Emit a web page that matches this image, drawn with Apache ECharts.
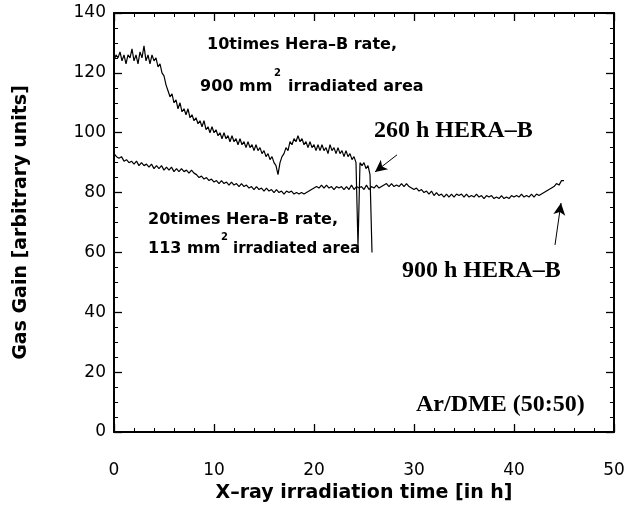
<!DOCTYPE html>
<html>
<head>
<meta charset="utf-8">
<script src="https://cdn.jsdelivr.net/npm/echarts@6.0.0/dist/echarts.min.js"></script>
<style>
html, body { margin: 0; padding: 0; background: #fff; }
#chart { width: 628px; height: 514px; }
</style>
</head>
<body>
<div id="chart"></div>
<script>
// gas gain vs irradiation time, two measurements
// 10x Hera-B rate, 900 mm2 (sampled every 0.2 h)
var stepHigh = 0.2;
var gainHigh = [
  124,126,125,127,124,126,123,126,125,128,124,126,123,127,125,129,124,126,123,126,124,125,122,123,120,
  119,116,114,112,113,110,111,108,110,107,108,106,108,105,106,104,105,103,104,102,104,101,102,100,102,
  100,101,99,100,98,100,98,99,97,99,97,98,96,98,96,97,95,97,95,96,94,96,94,95,93,
  94,92,93,91,92,90,89,86,90,92,93,95,94,97,96,98,97,99,97,98,96,97,95,97,95,
  96,94,96,94,96,94,95,93,96,94,95,93,95,93,94,92,94,92,93,91,92,90,62,90,89,
  90,88,89,86,60
];
// 20x Hera-B rate, 113 mm2 (sampled every 0.25 h)
var stepLow = 0.25;
var gainLow = [
  93,92,91.5,92,90.5,91,90,90.5,89.5,90.5,89,90,89,89.5,88.5,89.5,88,89,88,89,
  87.5,88.5,87.5,88.5,87,88,87,88,87,87.5,86.5,87.5,86.5,86,85,85.5,84.5,85,84,84.5,
  83.5,84,83,84,83,83.5,82.5,83.5,82.5,83,82,83,82,82.5,81.5,82,81,82,81,81.5,
  80.5,81.5,80.5,81,80,81,80,80.5,79.5,80.5,80,80.5,79.5,80,79.5,80,79.5,80,80.5,81,
  81.5,82,81.5,82.5,81.5,82.5,81.5,82,81,82,81.5,82,81,82,81,82.5,81,82,81.5,82,
  81,82.5,81,82,81.5,82.5,81.5,82,82.5,83,82,83,82,82.5,82,83,82,83,82,81.5,
  81,81.5,80.5,81,80,80.5,79.5,80.5,79,80,79,79.5,78.5,79.5,78.5,79.5,78.5,79.5,79,79.5,
  78.5,79.5,78.5,79,78.5,79.5,78.5,79,78,79,78.5,79,78,78.5,78,79,78,78.5,78,79,
  78.5,79,78.5,79.5,78.5,79,78.5,79.5,78.5,79.5,79,79.5,80,80.5,81,81.5,82,83,82.5,84,
  84
];
// arrows [from, to] in data units
var arrow260 = [[28.3, 92.6], [26.1, 86.9]];
var arrow900 = [[44.1, 62.5], [44.7, 76.5]];

function toPairs(step, vals) {
  var out = [];
  for (var i = 0; i < vals.length; i++) {
    out.push([+(i * step).toFixed(2), vals[i]]);
  }
  return out;
}

var sans = 'DejaVu Sans';
var serif = 'Liberation Serif';

function note(x, y, txt, size, fam) {
  return {
    type: 'text', left: x, top: y,
    style: { text: txt, font: 'bold ' + size + 'px "' + fam + '"', fill: '#000' }
  };
}

var baseAxis = {
  type: 'value',
  axisLine: { show: true, onZero: false, lineStyle: { color: '#000', width: 2 } },
  axisTick: { show: true, inside: true, length: 8, lineStyle: { color: '#000', width: 1.3 } },
  minorTick: { show: true, length: 4, lineStyle: { color: '#000', width: 1 } },
  splitLine: { show: false },
  axisLabel: { color: '#000', fontFamily: sans, fontSize: 17 }
};

var myChart = echarts.init(document.getElementById('chart'));
var option = {
  animation: false,
  backgroundColor: '#fff',
  grid: { left: 114, top: 13, right: 14, bottom: 82 },
  xAxis: [
    Object.assign({}, baseAxis, {
      position: 'bottom', min: 0, max: 50, interval: 10,
      minorTick: Object.assign({}, baseAxis.minorTick, { splitNumber: 5 }),
      axisLabel: Object.assign({}, baseAxis.axisLabel, { margin: 30 }),
      name: 'X\u2013ray irradiation time [in h]',
      nameLocation: 'middle', nameGap: 52,
      nameTextStyle: { color: '#000', fontFamily: sans, fontWeight: 'bold', fontSize: 19 }
    }),
    Object.assign({}, baseAxis, {
      position: 'top', min: 0, max: 50, interval: 10,
      minorTick: Object.assign({}, baseAxis.minorTick, { splitNumber: 5 }),
      axisLabel: { show: false }
    })
  ],
  yAxis: [
    Object.assign({}, baseAxis, {
      position: 'left', min: 0, max: 140, interval: 20,
      minorTick: Object.assign({}, baseAxis.minorTick, { splitNumber: 4 }),
      axisLabel: Object.assign({}, baseAxis.axisLabel, { margin: 8 }),
      name: 'Gas Gain [arbitrary units]',
      nameLocation: 'middle', nameGap: 83,
      nameTextStyle: { color: '#000', fontFamily: sans, fontWeight: 'bold', fontSize: 19 }
    }),
    Object.assign({}, baseAxis, {
      position: 'right', min: 0, max: 140, interval: 20,
      minorTick: Object.assign({}, baseAxis.minorTick, { splitNumber: 4 }),
      axisLabel: { show: false }
    })
  ],
  series: [
    {
      type: 'line', showSymbol: false, silent: true,
      data: toPairs(stepHigh, gainHigh),
      lineStyle: { color: '#000', width: 1.2 },
      markLine: {
        silent: true, symbol: ['none', 'arrow'], symbolSize: [9, 12],
        label: { show: false },
        lineStyle: { color: '#000', width: 1, type: 'solid' },
        data: [
          [{ coord: arrow260[0] }, { coord: arrow260[1] }],
          [{ coord: arrow900[0] }, { coord: arrow900[1] }]
        ]
      }
    },
    {
      type: 'line', showSymbol: false, silent: true,
      data: toPairs(stepLow, gainLow),
      lineStyle: { color: '#000', width: 1.2 }
    }
  ],
  graphic: [
    note(207, 37, '10times Hera\u2013B rate,', 16, sans),
    note(200, 79, '900 mm', 16, sans),
    note(274, 68, '2', 10, sans),
    note(288, 79, 'irradiated area', 16, sans),
    note(374, 119, '260 h HERA\u2013B', 24, serif),
    note(148, 212, '20times Hera\u2013B rate,', 16, sans),
    note(148, 241, '113 mm', 16, sans),
    note(221, 232, '2', 10, sans),
    note(233, 242, 'irradiated area', 15, sans),
    note(402, 259, '900 h HERA\u2013B', 24, serif),
    note(416, 393, 'Ar/DME (50:50)', 24, serif)
  ]
};
myChart.setOption(option);
</script>
</body>
</html>
